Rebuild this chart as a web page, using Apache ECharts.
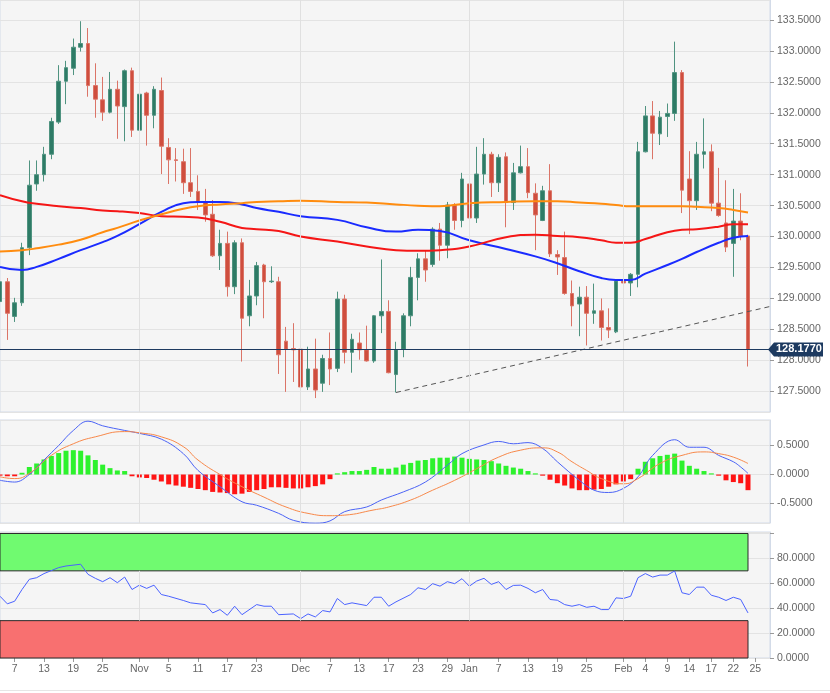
<!DOCTYPE html>
<html>
<head>
<meta charset="utf-8">
<script src="https://cdn.jsdelivr.net/npm/echarts@6/dist/echarts.min.js"></script>
<style>
html, body { margin: 0; padding: 0; background: #fff; }
#chart { width: 830px; height: 693px; }
</style>
</head>
<body>
<div id="chart"></div>
<script>
// trading days, Oct 2021 - Feb 2022 (last three are empty future slots)
function mk(month, days) {
    return days.split(' ').map(function (d) { return month + '-' + d; });
}
var dates = [].concat(
    mk('2021-10', '05 06 07 08 11 12 13 14 15 18 19 20 21 22 25 26 27 28 29'),
    mk('2021-11', '01 02 03 04 05 08 09 10 11 12 15 16 17 18 19 22 23 24 25 26 29 30'),
    mk('2021-12', '01 02 03 06 07 08 09 10 13 14 15 16 17 20 21 22 23 24 27 28 29 30 31'),
    mk('2022-01', '03 04 05 06 07 10 11 12 13 14 17 18 19 20 21 24 25 26 27 28 31'),
    mk('2022-02', '01 02 03 04 07 08 09 10 11 14 15 16 17 18 21 22 23 24 25 28'),
    mk('2022-03', '01')
);

// x axis tick labels
var labelIdx = [2, 6, 10, 14, 19, 23, 27, 31, 35, 41, 45, 49, 53, 57, 61, 64, 68, 72, 76, 80, 85, 88, 91, 94, 97, 100, 103];
var labelText = ['7', '13', '19', '25', 'Nov', '5', '11', '17', '23', 'Dec', '7', '13', '17', '23', '29', 'Jan', '7', '13', '19', '25', 'Feb', '4', '9', '14', '17', '22', '25'];
var monthStarts = [19, 41, 64, 85];

// daily candles
var opens = [128.95, 129.27, 128.71, 128.93, 129.82, 130.85, 131.00, 131.33, 131.85, 132.51,
    132.72, 133.06, 133.12, 132.44, 132.21, 132.01, 132.38, 132.10, 132.68, 131.72,
    132.32, 131.96, 132.36, 131.44, 131.24, 131.21, 130.87, 130.73, 130.56, 130.36,
    129.69, 129.89, 129.19, 129.90, 128.72, 129.04, 129.54, 129.27, 129.27, 128.31,
    128.19, 128.18, 127.57, 127.86, 127.63, 128.03, 127.87, 128.99, 128.13, 128.28,
    128.17, 127.99, 128.72, 128.79, 127.77, 128.18, 128.72, 129.34, 129.64, 129.55,
    130.12, 129.86, 130.51, 130.26, 130.85, 130.30, 131.01, 131.33, 130.87, 131.29,
    130.55, 131.03, 131.13, 130.70, 130.26, 130.74, 129.71, 129.66, 129.08, 128.91,
    129.02, 128.76, 128.80, 128.53, 128.46, 129.28, 129.25, 129.39, 131.37, 131.95,
    131.66, 131.94, 131.99, 132.65, 130.93, 130.58, 131.33, 131.37, 130.54, 130.22,
    129.89, 130.25, 130.01];
var closes = [129.27, 128.76, 128.93, 129.82, 130.83, 131.00, 131.33, 131.86, 132.51, 132.73,
    133.06, 133.12, 132.44, 132.22, 132.01, 132.38, 132.11, 132.68, 131.72, 132.30,
    131.96, 132.38, 131.46, 131.24, 131.23, 130.87, 130.73, 130.56, 130.35, 129.69,
    129.89, 129.19, 129.90, 128.68, 129.04, 129.53, 129.27, 129.28, 128.09, 128.18,
    128.17, 127.57, 127.86, 127.52, 128.03, 127.86, 128.99, 128.13, 128.34, 128.17,
    127.99, 128.72, 128.79, 127.80, 128.17, 128.72, 129.34, 129.64, 129.46, 130.12,
    129.86, 130.51, 130.26, 130.93, 130.30, 131.01, 131.33, 130.87, 131.28, 130.55,
    131.03, 131.13, 130.71, 130.35, 130.74, 129.72, 129.67, 129.08, 128.88, 129.02,
    128.76, 128.80, 128.53, 128.49, 129.28, 129.25, 129.39, 131.37, 131.95, 131.67,
    131.93, 131.99, 132.65, 130.75, 130.58, 131.33, 131.37, 130.54, 130.34, 129.83,
    130.25, 130.01, 128.177];
var lows = [128.89, 128.33, 128.62, 128.88, 129.70, 130.74, 130.89, 131.25, 131.82, 132.14,
    132.61, 132.99, 132.26, 131.92, 131.87, 131.99, 131.58, 131.54, 131.61, 131.70,
    131.47, 131.75, 131.01, 130.85, 130.89, 130.69, 130.64, 130.43, 130.24, 129.67,
    129.46, 129.03, 129.07, 127.98, 128.55, 128.89, 128.68, 129.25, 127.78, 127.49,
    127.65, 127.41, 127.52, 127.39, 127.49, 127.60, 127.81, 127.95, 127.80, 128.01,
    127.98, 127.96, 128.44, 127.79, 127.48, 128.05, 128.55, 128.97, 129.27, 129.51,
    129.61, 129.65, 130.11, 130.15, 130.03, 130.22, 130.84, 130.64, 130.72, 130.15,
    130.43, 131.02, 130.62, 129.78, 130.25, 129.67, 129.38, 129.06, 128.55, 128.39,
    128.24, 128.59, 128.32, 128.36, 128.44, 128.85, 129.04, 129.18, 131.36, 131.25,
    131.48, 131.61, 131.87, 130.38, 130.04, 130.43, 131.10, 130.41, 130.32, 129.75,
    129.35, 129.94, 127.90];
var highs = [129.38, 129.33, 129.01, 129.90, 131.23, 131.23, 131.45, 131.92, 132.77, 132.84,
    133.20, 133.48, 133.37, 132.80, 132.58, 132.66, 132.52, 132.70, 132.73, 132.44,
    132.34, 132.43, 132.57, 131.59, 131.43, 131.42, 131.43, 130.99, 130.77, 130.59,
    130.11, 130.08, 129.94, 129.97, 129.30, 129.59, 129.56, 129.52, 129.35, 128.54,
    128.60, 128.77, 128.22, 128.35, 128.09, 128.45, 129.11, 129.06, 128.43, 128.45,
    128.56, 128.73, 129.63, 128.97, 128.30, 128.76, 129.51, 129.73, 129.78, 130.15,
    130.22, 130.56, 130.54, 131.03, 130.99, 131.45, 131.59, 131.37, 131.33, 131.36,
    131.19, 131.47, 131.43, 130.86, 130.82, 131.17, 129.78, 130.08, 129.29, 129.19,
    129.20, 129.24, 129.00, 128.84, 129.30, 129.54, 129.41, 131.53, 132.11, 132.19,
    132.03, 132.15, 133.15, 132.69, 131.38, 131.53, 131.91, 131.49, 131.11, 130.91,
    130.77, 130.70, 130.03];
var lastPrice = 128.177;

// moving averages, read at these candle indices
var maIdx = [0, 3, 5, 8, 11, 14, 16, 19, 22, 25, 27, 30, 33, 35, 38, 41, 46, 50, 54, 57,
    60, 64, 69, 73, 76, 79, 82, 84, 86, 88, 91, 93, 95, 98, 100, 102];
var maBlue = [129.51, 129.46, 129.51, 129.64, 129.78, 129.91, 130.01, 130.20, 130.40, 130.54,
    130.56, 130.56, 130.52, 130.46, 130.40, 130.33, 130.27, 130.15, 130.08, 130.11,
    130.09, 129.94, 129.80, 129.68, 129.57, 129.44, 129.33, 129.30, 129.30, 129.40,
    129.54, 129.64, 129.75, 129.90, 129.98, 130.01];
var maRed = [130.67, 130.57, 130.53, 130.49, 130.46, 130.42, 130.41, 130.38, 130.33, 130.32,
    130.31, 130.24, 130.14, 130.12, 130.09, 130.00, 129.92, 129.84, 129.78, 129.77,
    129.78, 129.84, 129.99, 130.03, 130.01, 129.99, 129.94, 129.90, 129.90, 129.96,
    130.07, 130.11, 130.12, 130.16, 130.20, 130.20];
var maOrange = [129.76, 129.78, 129.81, 129.87, 129.95, 130.07, 130.14, 130.26, 130.36, 130.45,
    130.49, 130.52, 130.54, 130.56, 130.57, 130.58, 130.56, 130.55, 130.52, 130.50,
    130.49, 130.54, 130.56, 130.57, 130.57, 130.55, 130.53, 130.51, 130.49, 130.49,
    130.49, 130.49, 130.48, 130.46, 130.43, 130.39];

// support trendline
var trendIdx = [54, 105];
var trendVal = [127.48, 128.87];

// MACD
var macdHist = [-0.02, -0.03, -0.03, 0.03, 0.13, 0.19, 0.26, 0.32, 0.37, 0.41,
    0.42, 0.41, 0.33, 0.25, 0.17, 0.11, 0.07, 0.06, -0.03, -0.05,
    -0.06, -0.09, -0.12, -0.17, -0.19, -0.21, -0.23, -0.25, -0.27, -0.30,
    -0.31, -0.32, -0.34, -0.33, -0.30, -0.27, -0.25, -0.22, -0.22, -0.23,
    -0.24, -0.24, -0.22, -0.20, -0.17, -0.08, 0.02, 0.04, 0.06, 0.06,
    0.08, 0.13, 0.10, 0.10, 0.12, 0.17, 0.20, 0.24, 0.25, 0.28,
    0.29, 0.29, 0.31, 0.29, 0.27, 0.26, 0.25, 0.23, 0.19, 0.15,
    0.12, 0.10, 0.06, 0.02, -0.02, -0.09, -0.15, -0.19, -0.24, -0.27,
    -0.27, -0.26, -0.25, -0.21, -0.17, -0.12, -0.08, 0.10, 0.22, 0.28,
    0.32, 0.34, 0.36, 0.24, 0.15, 0.10, 0.06, 0.02, -0.02, -0.10,
    -0.13, -0.15, -0.27];
var macdIdx = [0, 2, 4, 6, 8, 10, 12, 14, 17, 19, 22, 25, 27, 30, 33, 35, 38, 40, 43, 45,
    47, 50, 52, 55, 58, 61, 63, 66, 68, 70, 72, 74, 76, 79, 81, 83, 85, 87, 89, 92,
    94, 96, 98, 100, 101, 102];
var macdLine = [-0.10, -0.13, 0.00, 0.25, 0.50, 0.76, 0.92, 0.84, 0.76, 0.71, 0.61, 0.36, 0.07, -0.21, -0.47, -0.53, -0.67, -0.79, -0.84, -0.80,
    -0.64, -0.56, -0.44, -0.30, -0.13, 0.16, 0.36, 0.51, 0.57, 0.53, 0.55, 0.45, 0.22, -0.10, -0.27, -0.31, -0.24, -0.04, 0.33, 0.60,
    0.47, 0.47, 0.33, 0.22, 0.13, 0.02];
var sigIdx = [0, 2, 4, 7, 10, 13, 17, 19, 22, 25, 27, 30, 33, 36, 39, 42, 45, 47, 51, 53,
    56, 59, 62, 65, 68, 71, 74, 76, 78, 80, 82, 85, 87, 90, 93, 96, 98, 100, 102];
var sigLine = [-0.04, -0.07, 0.02, 0.33, 0.53, 0.65, 0.74, 0.72, 0.65, 0.48, 0.25, 0.00, -0.21, -0.39, -0.56, -0.67, -0.71, -0.70, -0.61, -0.56,
    -0.44, -0.27, -0.10, 0.10, 0.30, 0.42, 0.46, 0.39, 0.22, 0.07, -0.07, -0.16, -0.07, 0.19, 0.33, 0.39, 0.36, 0.30, 0.19];

// RSI
var rsiIdx = [0, 1, 2, 3, 4, 5, 6, 8, 9, 11, 12, 13, 14, 15, 16, 17, 18, 19, 20, 21,
    22, 23, 25, 26, 28, 29, 30, 31, 32, 33, 35, 36, 37, 38, 40, 41, 42, 43, 44, 45,
    46, 47, 48, 50, 51, 52, 53, 54, 56, 57, 58, 59, 60, 61, 62, 63, 64, 65, 66, 67,
    68, 69, 70, 71, 72, 73, 74, 75, 76, 77, 78, 79, 80, 81, 82, 83, 84, 85, 86, 87,
    88, 89, 90, 91, 92, 93, 94, 95, 96, 97, 98, 99, 100, 101, 102];
var rsiVals = [49.6, 43.5, 45.6, 55, 63.2, 64.5, 67.8, 72.6, 73.9, 75.3, 67.2, 64, 61.3, 64.5, 60.5, 65, 55, 58.5, 55.9, 58.5,
    51, 49.6, 46.2, 44.3, 42.9, 36.2, 38.9, 34.3, 41.6, 34.8, 42.9, 41.6, 41.6, 34.8, 35.4, 31.6, 35.4, 33, 38.1, 37,
    47.8, 42.9, 44.3, 42.1, 48.8, 48.8, 41.6, 45.1, 51, 56.4, 55, 59.7, 57.7, 61.3, 59.7, 63.7, 57.7, 61.8, 64, 59.1,
    61.3, 55, 58.3, 58.5, 55.9, 52.4, 55, 47, 46.4, 42.9, 41.6, 42.9, 40.7, 41.6, 38.9, 38.9, 48.3, 47.8, 49.6, 64.5,
    67.8, 65, 66.6, 66.6, 69.9, 52.4, 51, 56.9, 56.9, 50.4, 48.8, 46.2, 48.8, 47, 36.2];

var UP = '#2e7b66', DOWN = '#cf4e3e';
var FONT = 'Liberation Sans, Arial, sans-serif';
var gridLine = '#e3e3e3';
var frame = '#d3dbe8';

function pairs(idx, vals) {
    return idx.map(function (k, j) { return [k, vals[j]]; });
}
var candles = opens.map(function (o, i) { return [o, closes[i], lows[i], highs[i]]; });
var histData = macdHist.map(function (v) {
    return { value: v, itemStyle: { color: v >= 0 ? '#2df22d' : '#ff1414' } };
});

function xAxisFor(g, withLabels) {
    return {
        type: 'category', gridIndex: g, data: dates, boundaryGap: false,
        axisLine: { show: false },
        axisTick: {
            show: withLabels, length: 4, lineStyle: { color: '#999' },
            interval: function (i) { return labelIdx.indexOf(i) >= 0; }
        },
        axisLabel: {
            show: withLabels, color: '#666', fontSize: 10.5, fontFamily: FONT, margin: 6,
            interval: function (i) { return labelIdx.indexOf(i) >= 0; },
            formatter: function (v, i) { var k = labelIdx.indexOf(i); return k >= 0 ? labelText[k] : ''; }
        },
        splitLine: { show: false }
    };
}
function yAxisFor(g, opts) {
    var ax = {
        type: 'value', gridIndex: g, position: 'right', scale: true,
        axisLine: { show: true, lineStyle: { color: frame } },
        axisTick: { show: true, length: 4, lineStyle: { color: '#999' } },
        splitLine: { show: true, lineStyle: { color: gridLine, width: 1 } }
    };
    for (var k in opts) ax[k] = opts[k];
    return ax;
}
function monthLines(xi, yi, lo, hi) {
    return {
        type: 'line', xAxisIndex: xi, yAxisIndex: yi, data: [], z: 1, silent: true,
        markLine: {
            silent: true, symbol: 'none', label: { show: false },
            lineStyle: { color: '#e0e0e0', width: 1, type: 'solid' },
            data: monthStarts.map(function (m) {
                if (lo == null) return { xAxis: m };
                return [{ xAxis: m, yAxis: lo }, { xAxis: m, yAxis: hi }];
            })
        }
    };
}
function fmt(v) { return Math.abs(v * 2 - Math.round(v * 2)) < 1e-6 ? v.toFixed(4) : ''; }

var chart = echarts.init(document.getElementById('chart'));
var option = {
    animation: false,
    backgroundColor: '#ffffff',
    grid: [
        { left: 0, right: 60, top: 0, height: 412, show: true, backgroundColor: '#f5f5f5', borderColor: frame, borderWidth: 1 },
        { left: 0, right: 60, top: 420, height: 103, show: true, backgroundColor: '#f5f5f5', borderColor: frame, borderWidth: 1 },
        { left: 0, right: 60, top: 532, height: 126, show: true, backgroundColor: '#f5f5f5', borderColor: frame, borderWidth: 1 }
    ],
    xAxis: [xAxisFor(0, false), xAxisFor(1, false), xAxisFor(2, true)],
    yAxis: [
        yAxisFor(0, {
            min: 127.165, max: 133.823, splitNumber: 13, minInterval: 0.5, maxInterval: 0.5,
            axisLabel: { color: '#666', fontSize: 10.5, fontFamily: FONT, margin: 7, showMinLabel: false, showMaxLabel: false, formatter: fmt }
        }),
        yAxisFor(1, {
            min: -0.836, max: 0.94, splitNumber: 3, minInterval: 0.5, maxInterval: 0.5,
            axisLabel: { color: '#666', fontSize: 10.5, fontFamily: FONT, margin: 7, showMinLabel: false, showMaxLabel: false, formatter: fmt }
        }),
        yAxisFor(2, {
            min: 0, max: 101.2, interval: 20,
            axisLabel: {
                color: '#666', fontSize: 10.5, fontFamily: FONT, margin: 7, showMaxLabel: false,
                formatter: function (v) { return v < 100 ? v.toFixed(4) : ''; }
            }
        })
    ],
    series: [
        monthLines(0, 0),
        monthLines(1, 1),
        monthLines(2, 2, 30, 70),
        {
            name: 'EURJPY', type: 'candlestick', xAxisIndex: 0, yAxisIndex: 0, z: 3, clip: true,
            data: candles, barWidth: 4,
            itemStyle: { color: UP, color0: DOWN, borderColor: '#4f9380', borderColor0: '#db7467', borderWidth: 1 },
            markLine: {
                silent: true, symbol: 'none', label: { show: false },
                lineStyle: { color: '#1d3a60', width: 1, type: 'solid' },
                data: [{ yAxis: lastPrice }]
            }
        },
        {
            name: 'MA blue', type: 'line', xAxisIndex: 0, yAxisIndex: 0, z: 4,
            data: pairs(maIdx, maBlue), smooth: true, showSymbol: false,
            lineStyle: { color: '#1a2bff', width: 2 }
        },
        {
            name: 'MA red', type: 'line', xAxisIndex: 0, yAxisIndex: 0, z: 4,
            data: pairs(maIdx, maRed), smooth: true, showSymbol: false,
            lineStyle: { color: '#f51616', width: 2 }
        },
        {
            name: 'MA orange', type: 'line', xAxisIndex: 0, yAxisIndex: 0, z: 4,
            data: pairs(maIdx, maOrange), smooth: true, showSymbol: false,
            lineStyle: { color: '#ff8c0f', width: 2 }
        },
        {
            name: 'Trend', type: 'line', xAxisIndex: 0, yAxisIndex: 0, z: 4,
            data: pairs(trendIdx, trendVal), showSymbol: false,
            lineStyle: { color: '#555', width: 1, type: [5, 4] }
        },
        {
            name: 'MACD hist', type: 'bar', xAxisIndex: 1, yAxisIndex: 1, z: 2,
            data: histData, barWidth: 5
        },
        {
            name: 'MACD', type: 'line', xAxisIndex: 1, yAxisIndex: 1, z: 4,
            data: pairs(macdIdx, macdLine), smooth: 0.4, showSymbol: false,
            lineStyle: { color: '#4b63f5', width: 1 }
        },
        {
            name: 'Signal', type: 'line', xAxisIndex: 1, yAxisIndex: 1, z: 4,
            data: pairs(sigIdx, sigLine), smooth: true, showSymbol: false,
            lineStyle: { color: '#f7884a', width: 1 }
        },
        {
            name: 'RSI', type: 'line', xAxisIndex: 2, yAxisIndex: 2, z: 4,
            data: pairs(rsiIdx, rsiVals), showSymbol: false,
            lineStyle: { color: '#4a62ff', width: 1 },
            markArea: {
                silent: true,
                data: [
                    [{ xAxis: 0, yAxis: 70, itemStyle: { color: '#70fa70', borderColor: '#2a2a2a', borderWidth: 1 } }, { xAxis: 102, yAxis: 100 }],
                    [{ xAxis: 0, yAxis: 0, itemStyle: { color: '#f87070', borderColor: '#2a2a2a', borderWidth: 1 } }, { xAxis: 102, yAxis: 30 }]
                ]
            }
        }
    ]
};
chart.setOption(option);

// last price tag on the right axis
var py = chart.convertToPixel({ yAxisIndex: 0 }, lastPrice);
chart.setOption({
    graphic: [
        {
            type: 'polygon', z: 100,
            shape: { points: [[768, py], [774, py - 7], [823, py - 7], [823, py + 7], [774, py + 7]] },
            style: { fill: '#1d3a60' }
        },
        {
            type: 'text', z: 101, x: 776, y: py - 6,
            style: { text: lastPrice.toFixed(4), fill: '#fff', font: 'bold 11px ' + FONT }
        },
        {
            type: 'line', z: 0,
            shape: { x1: 0, y1: 690.5, x2: 830, y2: 690.5 },
            style: { stroke: '#e6e6e6', lineWidth: 1 }
        }
    ]
});
</script>
</body>
</html>
